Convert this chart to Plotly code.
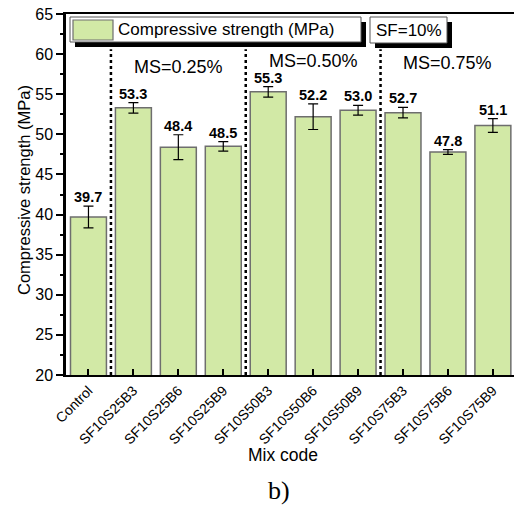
import plotly.graph_objects as go

categories = ["Control", "SF10S25B3", "SF10S25B6", "SF10S25B9", "SF10S50B3",
              "SF10S50B6", "SF10S50B9", "SF10S75B3", "SF10S75B6", "SF10S75B9"]
strength = [39.7, 53.3, 48.4, 48.5, 55.3, 52.2, 53.0, 52.7, 47.8, 51.1]
errors = [1.35, 0.65, 1.55, 0.6, 0.65, 1.6, 0.6, 0.65, 0.3, 0.85]
value_labels = ["39.7", "53.3", "48.4", "48.5", "55.3", "52.2", "53.0", "52.7", "47.8", "51.1"]
group_labels = ["MS=0.25%", "MS=0.50%", "MS=0.75%"]
group_centers = [2, 5, 8]
separators = [0.5, 3.5, 6.5]

W, H = 514, 506
L, R, T, B = 66, 514, 14, 375  # plot area pixels
PW, PH = R - L, B - T

def px(x):
    return (x - L) / PW

def py(y):
    return (B - y) / PH

FONT = "Liberation Sans, Arial, sans-serif"
fill = "#D2E9A6"

fig = go.Figure()
fig.add_trace(go.Bar(
    x=list(range(len(categories))), y=strength, width=0.8,
    marker=dict(color=fill, line=dict(color="#6E6E6E", width=1.5)),
    error_y=dict(type="data", array=errors, color="black", thickness=1.2, width=5),
    showlegend=False,
))

shapes = []
for s in separators:
    shapes.append(dict(type="line", xref="x", yref="y", x0=s, x1=s, y0=20, y1=60.6,
                       line=dict(color="black", width=2.5, dash="dot")))

# legend boxes with shadows
def box(x0, y0, x1, y1, off=5):
    shapes.append(dict(type="rect", xref="paper", yref="paper",
                       x0=px(x0 + off), x1=px(x1 + off), y0=py(y1 + off), y1=py(y0 + off),
                       fillcolor="black", line=dict(width=0), layer="above"))
    shapes.append(dict(type="rect", xref="paper", yref="paper",
                       x0=px(x0), x1=px(x1), y0=py(y1), y1=py(y0),
                       fillcolor="white", line=dict(color="#555555", width=1), layer="above"))

box(70, 17, 361, 42)
box(370, 17, 447, 43)
shapes.append(dict(type="rect", xref="paper", yref="paper",
                   x0=px(73), x1=px(113), y0=py(40), y1=py(20),
                   fillcolor=fill, line=dict(color="#6E6E6E", width=1.2), layer="above"))

annotations = []
for i, (v, e, t) in enumerate(zip(strength, errors, value_labels)):
    annotations.append(dict(x=i, y=v + e, xref="x", yref="y", text="<b>%s</b>" % t,
                            showarrow=False, yanchor="bottom", yshift=0, borderpad=0,
                            font=dict(family=FONT, size=14.5, color="black")))
for c, g, yy in zip(group_centers, group_labels, [67, 61.5, 62.5]):
    annotations.append(dict(x=c, y=py(yy), xref="x", yref="paper", text=g, showarrow=False,
                            yanchor="middle", borderpad=0,
                            font=dict(family=FONT, size=18, color="black")))
annotations.append(dict(x=px(116), y=py(29.5), xref="paper", yref="paper",
                        text="Compressive strength (MPa)", showarrow=False,
                        xanchor="left", yanchor="middle",
                        font=dict(family=FONT, size=17, color="black")))
annotations.append(dict(x=px(408.5), y=py(30), xref="paper", yref="paper",
                        text="SF=10%", showarrow=False, xanchor="center", yanchor="middle",
                        font=dict(family=FONT, size=17, color="black")))
annotations.append(dict(x=px(283), y=py(455), xref="paper", yref="paper",
                        text="Mix code", showarrow=False, yanchor="middle",
                        font=dict(family=FONT, size=17.5, color="black")))
annotations.append(dict(x=px(279), y=py(490), xref="paper", yref="paper",
                        text="b)", showarrow=False, yanchor="middle",
                        font=dict(family="Liberation Serif, Times New Roman, serif", size=26, color="black")))
annotations.append(dict(x=px(24), y=py(190), xref="paper", yref="paper",
                        text="Compressive strength (MPa)", showarrow=False, textangle=-90,
                        xanchor="center", yanchor="middle",
                        font=dict(family=FONT, size=16.5, color="black")))

fig.update_layout(
    width=W, height=H,
    margin=dict(l=L, r=W - R, t=T, b=H - B, pad=0),
    plot_bgcolor="white", paper_bgcolor="white",
    shapes=shapes, annotations=annotations,
    bargap=0.2,
    font=dict(family=FONT, color="black"),
    xaxis=dict(
        range=[-0.5, 9.47], tickmode="array", tickvals=list(range(len(categories))),
        ticktext=categories, tickangle=-45, tickfont=dict(family=FONT, size=14),
        ticks="inside", ticklen=6, tickwidth=2, tickcolor="black",
        showline=True, linecolor="black", linewidth=2, mirror=True,
        showgrid=False, zeroline=False,
    ),
    yaxis=dict(
        range=[20, 65], dtick=5, tickfont=dict(family=FONT, size=16),
        ticks="outside", ticklen=7, tickwidth=2, tickcolor="black",
        minor=dict(dtick=2.5, ticks="outside", ticklen=3, tickwidth=1.5, tickcolor="black"),
        showline=True, linecolor="black", linewidth=2.5,
        showgrid=False, zeroline=False,
    ),
)

fig.write_html("out.html")
